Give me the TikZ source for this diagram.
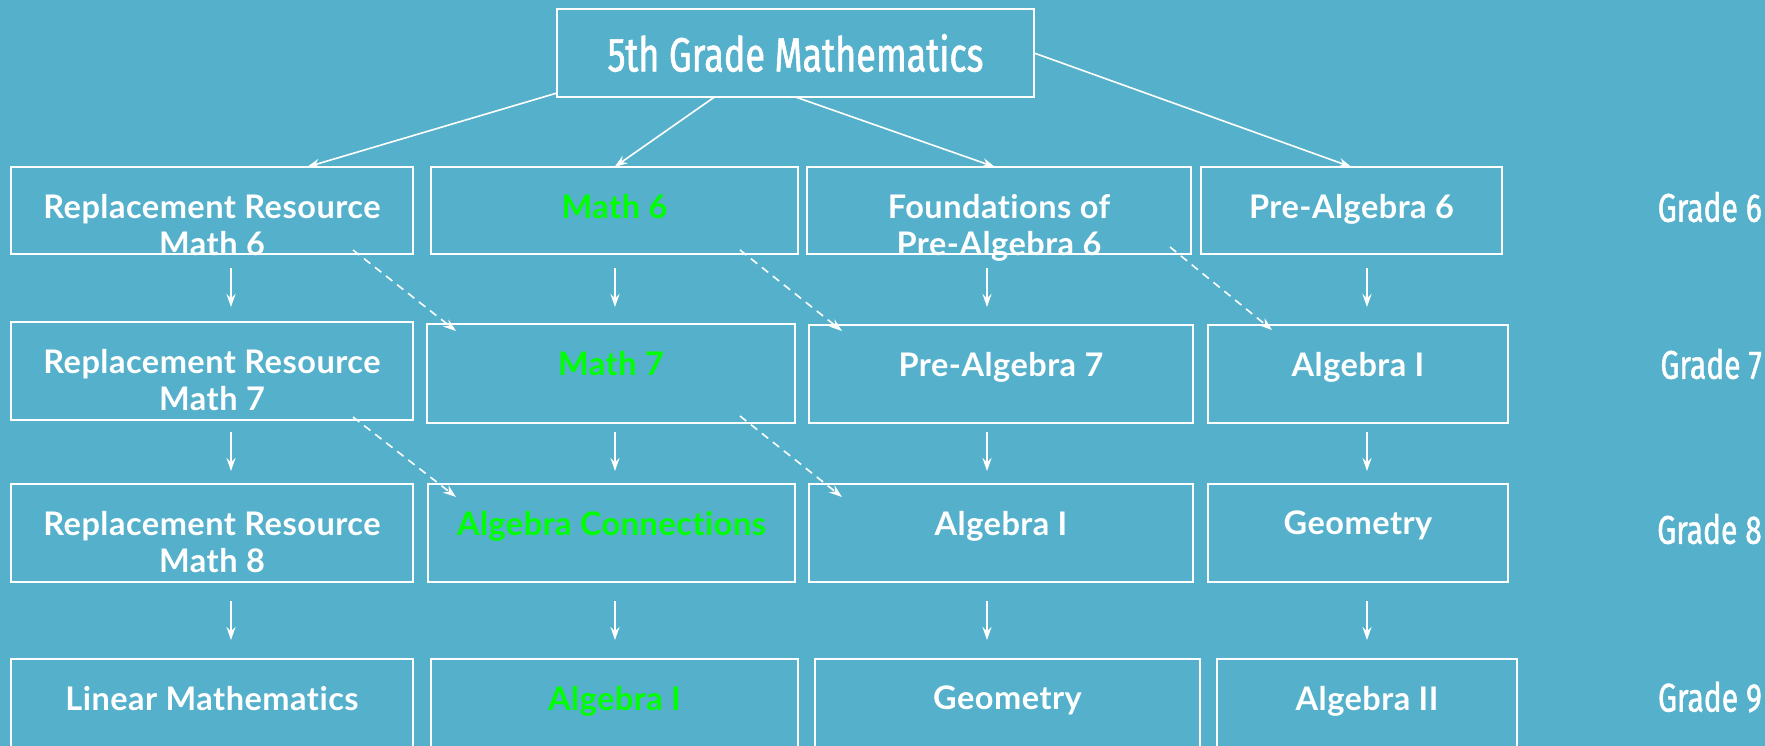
\documentclass[tikz,border=0pt]{standalone}
\usepackage{fontspec}
\setmainfont{Lato}[Ligatures=NoCommon, LetterSpace=1.5]
\newfontfamily\titlefont[FakeStretch=0.75, FakeBold=1.2]{Fira Sans}
\usetikzlibrary{arrows.meta}
\definecolor{bgblue}{HTML}{55B1CB}
\definecolor{mathgreen}{HTML}{00FF00}

\begin{document}
\begin{tikzpicture}[x=1pt,y=-1pt,
  course/.style={draw=white, line width=1.6pt, anchor=north west, inner sep=0pt, outer sep=0pt},
  ctext/.style={text=white, font=\bfseries\fontsize{32.5}{37}\selectfont, align=center, anchor=north, inner sep=0pt, yshift=-27pt},
  gtext/.style={ctext, text=mathgreen},
  grade/.style={text=white, font=\titlefont\fontsize{40}{46}\selectfont, anchor=east, inner sep=0pt},
  arr/.style={draw=white, line width=1.6pt, -{Stealth[length=13pt,width=9pt]}},
  darr/.style={arr, dash pattern=on 8pt off 6pt}]

\fill[bgblue] (0,0) rectangle (1765,746);
\useasboundingbox (0,0) rectangle (1765,746);
\clip (0,0) rectangle (1765,746);

\node[course, minimum width=477pt, minimum height=88pt, text=white, font=\titlefont\fontsize{48}{56}\selectfont] (title) at (557,9) {5th Grade Mathematics};

\node[course, minimum width=402pt, minimum height=87pt, label={[ctext]north:{Replacement Resource\\Math 6}}] (rr6) at (11,167) {};
\node[course, minimum width=367pt, minimum height=87pt, label={[gtext]north:Math 6}] (m6) at (431,167) {};
\node[course, minimum width=384pt, minimum height=87pt, label={[ctext]north:{Foundations of\\Pre-Algebra 6}}] (fpa6) at (807,167) {};
\node[course, minimum width=301pt, minimum height=87pt, label={[ctext]north:Pre-Algebra 6}] (pa6) at (1201,167) {};

\node[course, minimum width=402pt, minimum height=98pt, label={[ctext]north:{Replacement Resource\\Math 7}}] (rr7) at (11,322) {};
\node[course, minimum width=368pt, minimum height=99pt, label={[gtext]north:Math 7}] (m7) at (427,324) {};
\node[course, minimum width=384pt, minimum height=98pt, label={[ctext]north:Pre-Algebra 7}] (pa7) at (809,325) {};
\node[course, minimum width=300pt, minimum height=98pt, label={[ctext]north:Algebra I}] (alg7) at (1208,325) {};

\node[course, minimum width=402pt, minimum height=98pt, label={[ctext]north:{Replacement Resource\\Math 8}}] (rr8) at (11,484) {};
\node[course, minimum width=367pt, minimum height=98pt, label={[gtext]north:Algebra Connections}] (ac8) at (428,484) {};
\node[course, minimum width=384pt, minimum height=98pt, label={[ctext]north:Algebra I}] (alg8) at (809,484) {};
\node[course, minimum width=300pt, minimum height=98pt, label={[ctext]north:Geometry}] (geo8) at (1208,484) {};

\node[course, minimum width=402pt, minimum height=110pt, label={[ctext]north:Linear Mathematics}] (lin9) at (11,659) {};
\node[course, minimum width=367pt, minimum height=110pt, label={[gtext]north:Algebra I}] (alg9) at (431,659) {};
\node[course, minimum width=385pt, minimum height=110pt, label={[ctext]north:Geometry}] (geo9) at (815,659) {};
\node[course, minimum width=300pt, minimum height=110pt, label={[ctext]north:Algebra II}] (alg29) at (1217,659) {};

\node[grade] (g6) at (1762,207) {Grade 6};
\node[grade] (g7) at (1762,364) {Grade 7};
\node[grade] (g8) at (1762,529) {Grade 8};
\node[grade] (g9) at (1762,697) {Grade 9};

\draw[arr] ([yshift=4pt]title.south west) -- ([xshift=95pt]rr6.north);
\draw[arr] ([xshift=-81pt]title.south) -- (m6.north);
\draw[arr] (title.south) -- ([xshift=-4pt]fpa6.north);
\draw[arr] (title.east) -- (pa6.north);

\foreach \c/\x in {1/231,2/615,3/987,4/1367}
  \foreach \r/\ya/\yb in {1/268/307,2/432/471,3/601/640} {
    \coordinate (s\r\c) at (\x,\ya);
    \coordinate (e\r\c) at (\x,\yb);
    \draw[arr] (s\r\c) -- (e\r\c);
  }

\coordinate (d1a) at (353,250);  \coordinate (d1b) at (456,331);
\coordinate (d2a) at (740,250);  \coordinate (d2b) at (842,331);
\coordinate (d3a) at (1170,247); \coordinate (d3b) at (1272,330);
\coordinate (d4a) at (353,417);  \coordinate (d4b) at (456,497);
\coordinate (d5a) at (740,416);  \coordinate (d5b) at (842,497);

\draw[darr] (d1a) -- (d1b);
\draw[darr] (d2a) -- (d2b);
\draw[darr] (d3a) -- (d3b);
\draw[darr] (d4a) -- (d4b);
\draw[darr] (d5a) -- (d5b);
\end{tikzpicture}
\end{document}
